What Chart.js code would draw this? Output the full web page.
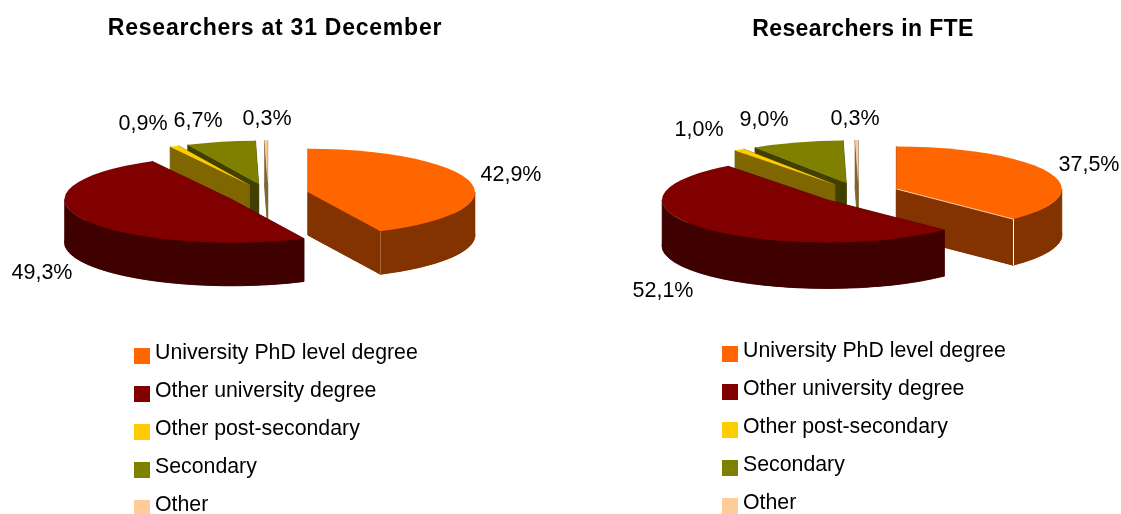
<!DOCTYPE html>
<html>
<head>
<meta charset="utf-8">
<style>
  html, body { margin: 0; padding: 0; background: #fff; overflow: hidden; }
  canvas { position: absolute; top: 0; }
  #pieA { left: 0; }
  #pieB { left: 605px; }
</style>
<script src="https://cdn.jsdelivr.net/npm/chart.js@4/dist/chart.umd.min.js"></script>
</head>
<body>
<canvas id="pieA" width="550" height="514"></canvas>
<canvas id="pieB" width="516" height="514"></canvas>
<script>
// categories
const categories = ['University PhD level degree', 'Other university degree', 'Other post-secondary', 'Secondary', 'Other']

// series values (%)
const valuesDecember = [42.9, 49.3, 0.9, 6.7, 0.3]
const valuesFTE = [37.5, 52.1, 1.0, 9.0, 0.3]

// colors
const topColors = ['#ff6600', '#800000', '#ffcc00', '#808000', '#ffcc99']
const wallColors = ['#833300', '#3f0000', '#806600', '#404000', '#806633']

// back to front
const drawOrder = [4, 3, 2, 0, 1]

const FONT = '"Liberation Sans", Arial, sans-serif'

// fake 3d pie, angles and radius come from the arc elements
const pie3d = {
    id: 'pie3d',
    beforeDraw(chart, args, opts) {
        // the title is drawn next, it needs wider spacing
        chart.ctx.letterSpacing = opts.titleSpacing
    },
    beforeDatasetsDraw(chart, args, opts) {
        const ctx = chart.ctx
        const meta = chart.getDatasetMeta(0)
        ctx.letterSpacing = '0px'

        drawOrder.forEach(function(i) {
            const p = meta.data[i].getProps(['startAngle', 'endAngle', 'outerRadius'])
            const mid = (p.startAngle + p.endAngle) / 2
            const ax = opts.cx + Math.cos(mid) * opts.explode
            const ay = opts.cy + Math.sin(mid) * opts.explode * opts.squash
            const rx = p.outerRadius
            const ry = p.outerRadius * opts.squash
            const d = opts.depth

            const fillPiece = function(color, build) {
                ctx.beginPath()
                build()
                ctx.closePath()
                ctx.fillStyle = color
                ctx.strokeStyle = color
                ctx.lineWidth = 0.6
                ctx.fill()
                ctx.stroke()
            }

            // bottom of the slice
            fillPiece(wallColors[i], function() {
                ctx.moveTo(ax, ay + d)
                ctx.ellipse(ax, ay + d, rx, ry, 0, p.startAngle, p.endAngle)
            })

            // the two cut faces
            ;[p.startAngle, p.endAngle].forEach(function(a) {
                const ex = ax + Math.cos(a) * rx
                const ey = ay + Math.sin(a) * ry
                fillPiece(wallColors[i], function() {
                    ctx.moveTo(ax, ay)
                    ctx.lineTo(ex, ey)
                    ctx.lineTo(ex, ey + d)
                    ctx.lineTo(ax, ay + d)
                })
            })

            // outer wall, only the part facing the viewer
            const TAU = Math.PI * 2
            for (let turn = -1; turn <= 1; turn++) {
                const a0 = Math.max(p.startAngle, turn * TAU)
                const a1 = Math.min(p.endAngle, turn * TAU + Math.PI)
                if (a1 > a0) {
                    fillPiece(wallColors[i], function() {
                        ctx.ellipse(ax, ay, rx, ry, 0, a0, a1)
                        ctx.ellipse(ax, ay + d, rx, ry, 0, a1, a0, true)
                    })
                }
            }

            // top of the slice
            ctx.beginPath()
            ctx.moveTo(ax, ay)
            ctx.ellipse(ax, ay, rx, ry, 0, p.startAngle, p.endAngle)
            ctx.closePath()
            ctx.fillStyle = topColors[i]
            ctx.fill()

            // light edge on the front of the first slice
            if (i === 0) {
                const ex = ax + Math.cos(p.endAngle) * rx
                const ey = ay + Math.sin(p.endAngle) * ry
                ctx.strokeStyle = opts.edgeColor
                ctx.lineWidth = 1
                ctx.beginPath()
                ctx.moveTo(Math.round(ex) + 0.5, ey)
                ctx.lineTo(Math.round(ex) + 0.5, ey + d)
                ctx.stroke()
                if (opts.cutEdge) {
                    ctx.lineWidth = 0.7
                    ctx.beginPath()
                    ctx.moveTo(ax, ay)
                    ctx.lineTo(ex, ey)
                    ctx.stroke()
                }
            }
        })
        return false
    },
    afterDraw(chart, args, opts) {
        const ctx = chart.ctx
        const data = chart.data.datasets[0].data
        ctx.save()
        ctx.fillStyle = '#000'
        ctx.textBaseline = 'middle'

        // value labels
        ctx.font = opts.labelFont + ' ' + FONT
        ctx.textAlign = 'center'
        data.forEach(function(v, i) {
            const text = v.toFixed(1).replace('.', ',') + '%'
            ctx.fillText(text, opts.labelAt[i][0], opts.labelAt[i][1])
        })

        // legend
        ctx.textAlign = 'left'
        ctx.font = opts.legendFont + ' ' + FONT
        chart.data.labels.forEach(function(name, i) {
            const y = opts.legendY + i * opts.legendStep
            ctx.fillStyle = topColors[i]
            ctx.fillRect(opts.legendX, y, 16, 16)
            ctx.fillStyle = '#000'
            ctx.fillText(name, opts.legendX + 21, y + 5)
        })
        ctx.restore()
    }
}

function makePie(id, title, values, titleTop, layout) {
    return new Chart(document.getElementById(id), {
        type: 'pie',
        data: {
            labels: categories,
            datasets: [{
                data: values,
                backgroundColor: topColors,
                borderWidth: 0
            }]
        },
        options: {
            responsive: false,
            animation: false,
            radius: layout.radius,
            events: [],
            plugins: {
                legend: { display: false },
                tooltip: { enabled: false },
                title: {
                    display: true,
                    text: title,
                    color: '#000',
                    font: { family: FONT, size: 23, weight: 'bold' },
                    padding: { top: titleTop, bottom: 0 }
                },
                pie3d: layout
            }
        },
        plugins: [pie3d]
    })
}

makePie('pieA', 'Researchers at 31 December', valuesDecember, 15, {
    radius: 167, cx: 268, cy: 194.5, squash: 0.26, explode: 41, depth: 43,
    edgeColor: '#a8663c', cutEdge: false, titleSpacing: '0.76px',
    labelFont: '21.5px', legendFont: '21.3px',
    labelAt: [[511, 175], [42, 273], [143, 124], [198, 121], [267, 119]],
    legendX: 134, legendY: 348, legendStep: 38
})

makePie('pieB', 'Researchers in FTE', valuesFTE, 16, {
    radius: 165.5, cx: 253.5, cy: 193, squash: 0.257, explode: 41, depth: 46,
    edgeColor: '#ffffff', cutEdge: true, titleSpacing: '0.37px',
    labelFont: '21.5px', legendFont: '21.3px',
    labelAt: [[484, 165], [58, 291], [94, 130], [159, 120], [250, 119]],
    legendX: 117, legendY: 346, legendStep: 38
})
</script>
</body>
</html>
